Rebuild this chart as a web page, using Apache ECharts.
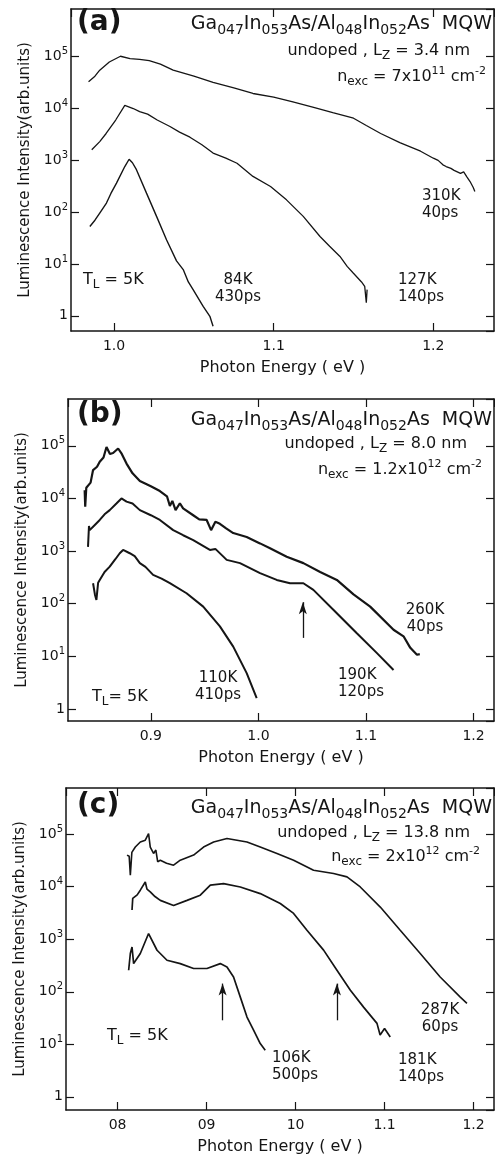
<!DOCTYPE html>
<html><head><meta charset="utf-8">
<script src="https://cdn.jsdelivr.net/npm/echarts@6/dist/echarts.min.js"></script>
<style>html,body{margin:0;padding:0;background:#fff}#c{width:495px;height:1156px}</style>
</head><body><div id="c"></div>
<script>
// ---------- data: [photon energy (eV), luminescence intensity (arb. units)] ----------
// panel (a)  Lz = 3.4 nm
const a310K = [[0.984,33000],[0.988,42000],[0.991,55000],[0.997,79000],[1.004,102000],[1.010,92000],[1.016,89000],[1.022,84000],[1.029,72000],[1.037,55000],[1.050,42000],[1.062,32000],[1.075,25000],[1.087,19500],[1.100,16600],[1.112,13500],[1.125,10500],[1.137,8300],[1.150,6500],[1.158,4700],[1.167,3300],[1.179,2200],[1.192,1500],[1.200,1100],[1.203,1000],[1.206,820],[1.208,760],[1.211,700],[1.213,640],[1.217,560],[1.219,600],[1.221,480],[1.223,390],[1.224,420],[1.225,300],[1.226,250]];
const a127K = [[0.986,1600],[0.991,2300],[0.995,3300],[1.001,6000],[1.0067,11500],[1.012,10000],[1.016,8700],[1.021,7800],[1.027,6000],[1.035,4500],[1.041,3500],[1.0475,2800],[1.055,2000],[1.062,1380],[1.070,1100],[1.077,880],[1.087,490],[1.098,313],[1.108,173],[1.1185,83],[1.129,34],[1.135,22],[1.1415,14],[1.146,9],[1.1498,6.7],[1.155,4.5],[1.157,3.7],[1.158,1.8],[1.1585,3.2]];
const a84K = [[0.9848,53],[0.988,70],[0.991,96],[0.9952,150],[0.998,230],[1.0015,364],[1.0067,760],[1.0094,1050],[1.0115,900],[1.014,660],[1.0203,233],[1.0266,83],[1.0329,29],[1.0391,11.5],[1.0433,7.8],[1.0465,4.5],[1.0495,3.2],[1.0558,1.52],[1.060,0.98],[1.062,0.63]];
// panel (b)  Lz = 8.0 nm
const b260K = [[0.8385,14400],[0.8390,7000],[0.8400,16000],[0.8416,16700],[0.8440,20000],[0.8463,34600],[0.8500,40000],[0.8525,50000],[0.8560,60000],[0.8588,95000],[0.8620,70000],[0.8649,73000],[0.8696,89000],[0.8730,70000],[0.8774,46000],[0.8830,30000],[0.8898,21400],[0.9000,17000],[0.9084,13800],[0.9150,11000],[0.9177,7200],[0.9200,9000],[0.9230,6000],[0.9270,8100],[0.9300,6500],[0.9394,4800],[0.9450,4000],[0.9519,3900],[0.9560,2500],[0.9600,3600],[0.9642,3300],[0.9700,2700],[0.9766,2200],[0.9891,1850],[1.0015,1400],[1.0108,1130],[1.0263,780],[1.0418,590],[1.0574,400],[1.0729,283],[1.0884,150],[1.1039,88],[1.1256,32],[1.1349,24],[1.1412,14.5],[1.1474,10.7],[1.150,11]];
const b190K = [[0.8416,1200],[0.8425,3000],[0.8432,2500],[0.8470,3000],[0.8525,3900],[0.8570,5000],[0.8618,6000],[0.8680,8000],[0.8727,10000],[0.8774,8700],[0.8830,8000],[0.8898,6000],[0.9000,4800],[0.9084,3900],[0.9208,2500],[0.9300,2000],[0.9394,1620],[0.9549,1050],[0.9600,1100],[0.9705,680],[0.9829,590],[1.0015,380],[1.017,283],[1.0294,245],[1.0418,245],[1.0511,183],[1.0729,66],[1.0915,27.5],[1.1102,11.5],[1.1256,5.5]];
const b110K = [[0.8463,245],[0.8480,150],[0.8494,118],[0.8510,250],[0.8525,282],[0.8570,400],[0.8618,506],[0.8670,700],[0.8711,910],[0.8742,1050],[0.8804,910],[0.8850,800],[0.8898,590],[0.8950,500],[0.9021,352],[0.9100,300],[0.9177,245],[0.9332,158],[0.9487,88],[0.9642,37],[0.9766,15.3],[0.9891,4.8],[0.9984,1.6]];
// panel (c)  Lz = 13.8 nm
const c287K = [[0.8106,40000],[0.8130,38000],[0.8143,16600],[0.8160,45000],[0.8199,57000],[0.8255,71000],[0.8311,77000],[0.8348,103000],[0.8367,57000],[0.8404,43000],[0.8430,50000],[0.8450,30000],[0.8480,32000],[0.8550,28000],[0.8629,25700],[0.8704,32000],[0.8854,40000],[0.8966,57000],[0.9079,71000],[0.9229,83000],[0.9454,71000],[0.9603,57000],[0.9791,43000],[0.9978,32000],[1.0202,20600],[1.0427,17800],[1.0578,15400],[1.0727,9900],[1.0952,4100],[1.1176,1480],[1.1401,535],[1.1625,191],[1.1851,79],[1.1926,60]];
const c181K = [[0.8162,3600],[0.8170,6000],[0.8180,5500],[0.8220,7000],[0.8255,8600],[0.8311,12300],[0.8330,9000],[0.8367,8000],[0.8420,6500],[0.8480,5500],[0.8629,4400],[0.8780,5500],[0.8929,6900],[0.9042,10700],[0.9191,11500],[0.9379,9900],[0.9603,7400],[0.9828,4800],[0.9978,3100],[1.0128,1480],[1.0315,620],[1.0465,257],[1.0616,107],[1.0764,51],[1.0915,25],[1.0950,15],[1.1000,20],[1.1064,13.8]];
const c106K = [[0.8124,257],[0.8143,535],[0.8162,713],[0.8180,344],[0.8255,535],[0.8348,1285],[0.8443,617],[0.8555,398],[0.8704,344],[0.8854,277],[0.9004,277],[0.9154,344],[0.9229,297],[0.9303,191],[0.9379,79],[0.9454,33],[0.9528,18.5],[0.9603,10.3],[0.9659,7.7]];
// arrows (energy, tail intensity, head intensity)
const arrowsB = [[1.0413,22.4,107]];
const arrowsC = [[0.918,28.6,143],[1.0465,28.6,143]];
// axis ticks / labels
const yTickExps = [0,1,2,3,4,5];
const xTicksA = [1.0,1.1,1.2], xLabelsA = ['1.0','1.1','1.2'];
const xTicksB = [0.9,1.0,1.1,1.2], xLabelsB = ['0.9','1.0','1.1','1.2'];
const xTicksC = [0.8,0.9,1.0,1.1,1.2], xLabelsC = ['08','09','10','1.1','1.2'];

// ---------- chart ----------
const FF = 'DejaVu Sans';
const INK = '#151515';
const grids = [
  {left:71, top:9, width:423, height:322},
  {left:68, top:399, width:426, height:322},
  {left:66, top:788, width:428, height:322}
];
const xRanges = [[0.973,1.238],[0.823,1.219],[0.742,1.223]];
const yRanges = [[0.51,832000],[0.59,776000],[0.56,759000]];
const xTicks = [xTicksA,xTicksB,xTicksC], xLabels=[xLabelsA,xLabelsB,xLabelsC];

function xLab(i){ return function(v){ const k = xTicks[i].findIndex(t=>Math.abs(t-v)<1e-6); return k<0?'':xLabels[i][k]; }; }
function yLab(v){ const e=Math.log10(v), n=Math.round(e); if(Math.abs(e-n)>1e-6||yTickExps.indexOf(n)<0) return ''; return n===0?'{b|1}':'{b|10}{s|'+n+'}'; }
const lineAx = {show:true, lineStyle:{color:INK,width:1.5}};
const tickAx = {show:true, inside:true, length:8, lineStyle:{color:INK,width:1.2}};

const xAxis=[], yAxis=[];
for(let i=0;i<3;i++){
  xAxis.push({type:'value',gridIndex:i,position:'bottom',min:xRanges[i][0],max:xRanges[i][1],minInterval:0.1,maxInterval:0.1,
    axisLine:lineAx,axisTick:tickAx,splitLine:{show:false},
    axisLabel:{color:INK,fontSize:14,fontFamily:FF,margin:8,showMinLabel:false,showMaxLabel:false,formatter:xLab(i)},
    name:'Photon Energy ( eV )',nameLocation:'middle',nameGap:29,nameTextStyle:{color:INK,fontSize:16,fontFamily:FF}});
  xAxis.push({type:'value',gridIndex:i,position:'top',min:xRanges[i][0],max:xRanges[i][1],minInterval:0.1,maxInterval:0.1,
    axisLine:lineAx,axisTick:tickAx,splitLine:{show:false},axisLabel:{show:false}});
  yAxis.push({type:'log',logBase:10,gridIndex:i,position:'left',min:yRanges[i][0],max:yRanges[i][1],
    axisLine:lineAx,axisTick:tickAx,splitLine:{show:false},minorTick:{show:false},
    axisLabel:{color:INK,margin:3,showMinLabel:false,showMaxLabel:false,formatter:yLab,
      rich:{b:{fontSize:14,fontFamily:FF,color:INK,lineHeight:20},s:{fontSize:10,fontFamily:FF,color:INK,lineHeight:10,verticalAlign:'top'}}},
    name:'Luminescence Intensity(arb.units)',nameLocation:'middle',nameGap:38,nameTextStyle:{color:INK,fontSize:15,fontFamily:FF}});
  yAxis.push({type:'log',logBase:10,gridIndex:i,position:'right',min:yRanges[i][0],max:yRanges[i][1],
    axisLine:lineAx,axisTick:tickAx,splitLine:{show:false},axisLabel:{show:false}});
}

function curve(data,i,w){
  return {type:'line',data:data,xAxisIndex:2*i,yAxisIndex:2*i,showSymbol:false,symbol:'none',silent:true,
    lineStyle:{color:INK,width:w},z:3};
}
function arrowSeries(list,i){
  return {type:'line',data:[],xAxisIndex:2*i,yAxisIndex:2*i,silent:true,
    markLine:{silent:true,symbol:['none','arrow'],symbolSize:[6,12],label:{show:false},
      lineStyle:{color:INK,width:1.3,type:'solid'},
      data:list.map(a=>[{coord:[a[0],a[1]]},{coord:[a[0],a[2]]}])}};
}
const series=[
  curve(a310K,0,1.3),curve(a127K,0,1.3),curve(a84K,0,1.4),
  curve(b260K,1,2.2),curve(b190K,1,2.0),curve(b110K,1,2.0),arrowSeries(arrowsB,1),
  curve(c287K,2,1.6),curve(c181K,2,1.7),curve(c106K,2,1.7),arrowSeries(arrowsC,2)
];

const rich = {
  m:{fontSize:19,fontFamily:FF,fill:INK,lineHeight:26},
  s:{fontSize:14,fontFamily:FF,fill:INK,lineHeight:13,verticalAlign:'bottom'},
  p:{fontSize:11,fontFamily:FF,fill:INK,lineHeight:11,verticalAlign:'top'},
  u:{fontSize:16,fontFamily:FF,fill:INK,lineHeight:22},
  q:{fontSize:12,fontFamily:FF,fill:INK,lineHeight:12,verticalAlign:'bottom'}
};
function txt(x,y,text,opt){
  opt=opt||{};
  return {type:'text',x:x,y:y,silent:true,z:10,style:Object.assign({text:text,fontSize:15,fontFamily:FF,fill:INK,
    textAlign:'left',textVerticalAlign:'top',lineHeight:17,rich:rich},opt)};
}
const titleTxt = '{m|Ga}{s|047}{m|In}{s|053}{m|As/Al}{s|048}{m|In}{s|052}{m|As  MQW}';
const panels = [
  {lab:'(a)',top:14,ty:24,lz:'3.4',ny:77,nx:486,ne:'7x10',np:'11',ly:51,lx:470},
  {lab:'(b)',top:406,ty:420,lz:'8.0',ny:470,nx:482,ne:'1.2x10',np:'12',ly:444,lx:467},
  {lab:'(c)',top:797,ty:808,lz:'13.8',ny:857,nx:480,ne:'2x10',np:'12',ly:833,lx:470}
];
const graphic=[];
panels.forEach(p=>{
  graphic.push(txt(77,p.top,p.lab,{fontSize:28,fontWeight:'bold'}));
  graphic.push(txt(492,p.ty,titleTxt,{textAlign:'right',textVerticalAlign:'middle'}));
  graphic.push(txt(p.lx,p.ly,'{u|undoped , L}{q|Z}{u| = '+p.lz+' nm}',{textAlign:'right',textVerticalAlign:'middle'}));
  graphic.push(txt(p.nx,p.ny,'{u|n}{q|exc}{u| = '+p.ne+'}{p|'+p.np+'}{u| cm}{p|-2}',{textAlign:'right',textVerticalAlign:'middle'}));
});
// curve annotations
graphic.push(txt(422,188,'310K\n40ps'));
graphic.push(txt(398,272,'127K\n140ps'));
graphic.push(txt(238,272,'84K\n430ps',{textAlign:'center'}));
graphic.push(txt(83,280,'{u|T}{q|L}{u| = 5K}',{textVerticalAlign:'middle'}));
graphic.push(txt(425,602,'260K\n40ps',{textAlign:'center'}));
graphic.push(txt(338,667,'190K\n120ps'));
graphic.push(txt(218,670,'110K\n410ps',{textAlign:'center'}));
graphic.push(txt(92,697,'{u|T}{q|L}{u|= 5K}',{textVerticalAlign:'middle'}));
graphic.push(txt(440,1002,'287K\n60ps',{textAlign:'center'}));
graphic.push(txt(398,1052,'181K\n140ps'));
graphic.push(txt(272,1050,'106K\n500ps'));
graphic.push(txt(107,1036,'{u|T}{q|L}{u| = 5K}',{textVerticalAlign:'middle'}));

const chart = echarts.init(document.getElementById('c'),null,{renderer:'canvas'});
chart.setOption({backgroundColor:'#ffffff',animation:false,grid:grids,xAxis:xAxis,yAxis:yAxis,series:series,graphic:graphic});
</script></body></html>
